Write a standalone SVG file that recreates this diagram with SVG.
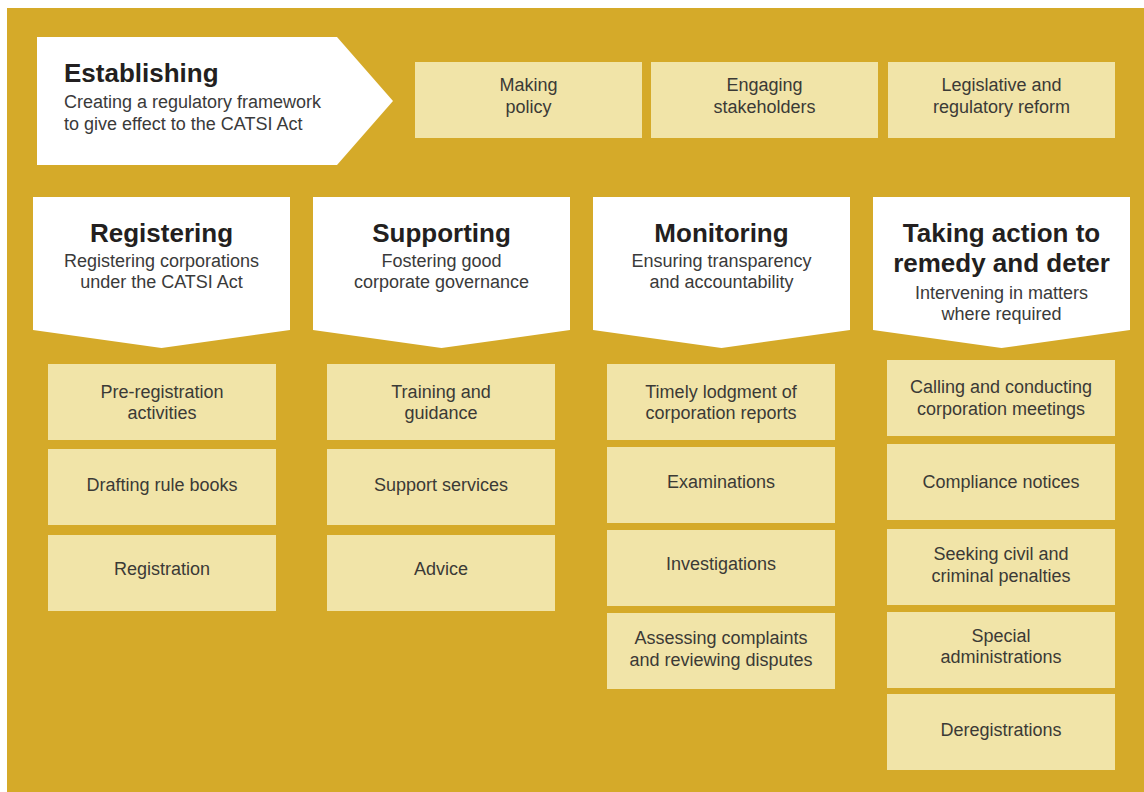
<svg xmlns="http://www.w3.org/2000/svg" width="1144" height="792" viewBox="0 0 1144 792">
  <style>
    .bg { fill: #D5AA29; }
    .head { fill: #FFFFFF; }
    .item { fill: #F1E4A8; }
    .title { font-family: "Liberation Sans", Arial, Helvetica, sans-serif; font-size: 26px; font-weight: bold; fill: #231F20; }
    .sub { font-family: "Liberation Sans", Arial, Helvetica, sans-serif; font-size: 18px; fill: #3A3A3A; }
    .lbl { font-family: "Liberation Sans", Arial, Helvetica, sans-serif; font-size: 18px; fill: #3B3A36; text-anchor: middle; }
    .c { text-anchor: middle; }
  </style>

  <!-- background panel -->
  <rect class="bg" x="7" y="8" width="1137" height="784"/>

  <!-- Establishing: right-pointing banner -->
  <g id="establishing">
    <polygon class="head" points="37,37 337,37 393,101 337,165 37,165"/>
    <text class="title" x="64" y="82">Establishing</text>
    <text class="sub" x="64" y="108">Creating a regulatory framework</text>
    <text class="sub" x="64" y="130">to give effect to the CATSI Act</text>
  </g>

  <!-- Establishing activities -->
  <g id="making-policy">
    <rect class="item" x="415" y="62" width="227" height="76"/>
    <text class="lbl" x="528.5" y="91">Making</text>
    <text class="lbl" x="528.5" y="113">policy</text>
  </g>
  <g id="engaging-stakeholders">
    <rect class="item" x="651" y="62" width="227" height="76"/>
    <text class="lbl" x="764.5" y="91">Engaging</text>
    <text class="lbl" x="764.5" y="113">stakeholders</text>
  </g>
  <g id="legislative-reform">
    <rect class="item" x="888" y="62" width="227" height="76"/>
    <text class="lbl" x="1001.5" y="91">Legislative and</text>
    <text class="lbl" x="1001.5" y="113">regulatory reform</text>
  </g>

  <!-- Column headers: downward-pointing banners -->
  <g id="registering">
    <polygon class="head" points="33,197 290,197 290,330 161.5,348 33,330"/>
    <text class="title c" x="161.5" y="242">Registering</text>
    <text class="sub c" x="161.5" y="267">Registering corporations</text>
    <text class="sub c" x="161.5" y="288">under the CATSI Act</text>
  </g>
  <g id="supporting">
    <polygon class="head" points="313,197 570,197 570,330 441.5,348 313,330"/>
    <text class="title c" x="441.5" y="242">Supporting</text>
    <text class="sub c" x="441.5" y="267">Fostering good</text>
    <text class="sub c" x="441.5" y="288">corporate governance</text>
  </g>
  <g id="monitoring">
    <polygon class="head" points="593,197 850,197 850,330 721.5,348 593,330"/>
    <text class="title c" x="721.5" y="242">Monitoring</text>
    <text class="sub c" x="721.5" y="267">Ensuring transparency</text>
    <text class="sub c" x="721.5" y="288">and accountability</text>
  </g>
  <g id="taking-action">
    <polygon class="head" points="873,197 1130,197 1130,330 1001.5,348 873,330"/>
    <text class="title c" x="1001.5" y="242">Taking action to</text>
    <text class="title c" x="1001.5" y="272">remedy and deter</text>
    <text class="sub c" x="1001.5" y="299">Intervening in matters</text>
    <text class="sub c" x="1001.5" y="320">where required</text>
  </g>

  <!-- Registering activities -->
  <g id="pre-registration">
    <rect class="item" x="48" y="364" width="228" height="76"/>
    <text class="lbl" x="162" y="398">Pre-registration</text>
    <text class="lbl" x="162" y="419">activities</text>
  </g>
  <g id="drafting-rule-books">
    <rect class="item" x="48" y="449" width="228" height="76"/>
    <text class="lbl" x="162" y="491">Drafting rule books</text>
  </g>
  <g id="registration">
    <rect class="item" x="48" y="535" width="228" height="76"/>
    <text class="lbl" x="162" y="575">Registration</text>
  </g>

  <!-- Supporting activities -->
  <g id="training-guidance">
    <rect class="item" x="327" y="364" width="228" height="76"/>
    <text class="lbl" x="441" y="398">Training and</text>
    <text class="lbl" x="441" y="419">guidance</text>
  </g>
  <g id="support-services">
    <rect class="item" x="327" y="449" width="228" height="76"/>
    <text class="lbl" x="441" y="491">Support services</text>
  </g>
  <g id="advice">
    <rect class="item" x="327" y="535" width="228" height="76"/>
    <text class="lbl" x="441" y="575">Advice</text>
  </g>

  <!-- Monitoring activities -->
  <g id="timely-lodgment">
    <rect class="item" x="607" y="364" width="228" height="76"/>
    <text class="lbl" x="721" y="398">Timely lodgment of</text>
    <text class="lbl" x="721" y="419">corporation reports</text>
  </g>
  <g id="examinations">
    <rect class="item" x="607" y="447" width="228" height="76"/>
    <text class="lbl" x="721" y="488">Examinations</text>
  </g>
  <g id="investigations">
    <rect class="item" x="607" y="530" width="228" height="76"/>
    <text class="lbl" x="721" y="570">Investigations</text>
  </g>
  <g id="complaints-disputes">
    <rect class="item" x="607" y="613" width="228" height="76"/>
    <text class="lbl" x="721" y="644">Assessing complaints</text>
    <text class="lbl" x="721" y="666">and reviewing disputes</text>
  </g>

  <!-- Taking action activities -->
  <g id="meetings">
    <rect class="item" x="887" y="360" width="228" height="76"/>
    <text class="lbl" x="1001" y="393">Calling and conducting</text>
    <text class="lbl" x="1001" y="415">corporation meetings</text>
  </g>
  <g id="compliance-notices">
    <rect class="item" x="887" y="444" width="228" height="76"/>
    <text class="lbl" x="1001" y="488">Compliance notices</text>
  </g>
  <g id="penalties">
    <rect class="item" x="887" y="529" width="228" height="76"/>
    <text class="lbl" x="1001" y="560">Seeking civil and</text>
    <text class="lbl" x="1001" y="582">criminal penalties</text>
  </g>
  <g id="special-administrations">
    <rect class="item" x="887" y="612" width="228" height="76"/>
    <text class="lbl" x="1001" y="642">Special</text>
    <text class="lbl" x="1001" y="663">administrations</text>
  </g>
  <g id="deregistrations">
    <rect class="item" x="887" y="694" width="228" height="76"/>
    <text class="lbl" x="1001" y="736">Deregistrations</text>
  </g>
</svg>
